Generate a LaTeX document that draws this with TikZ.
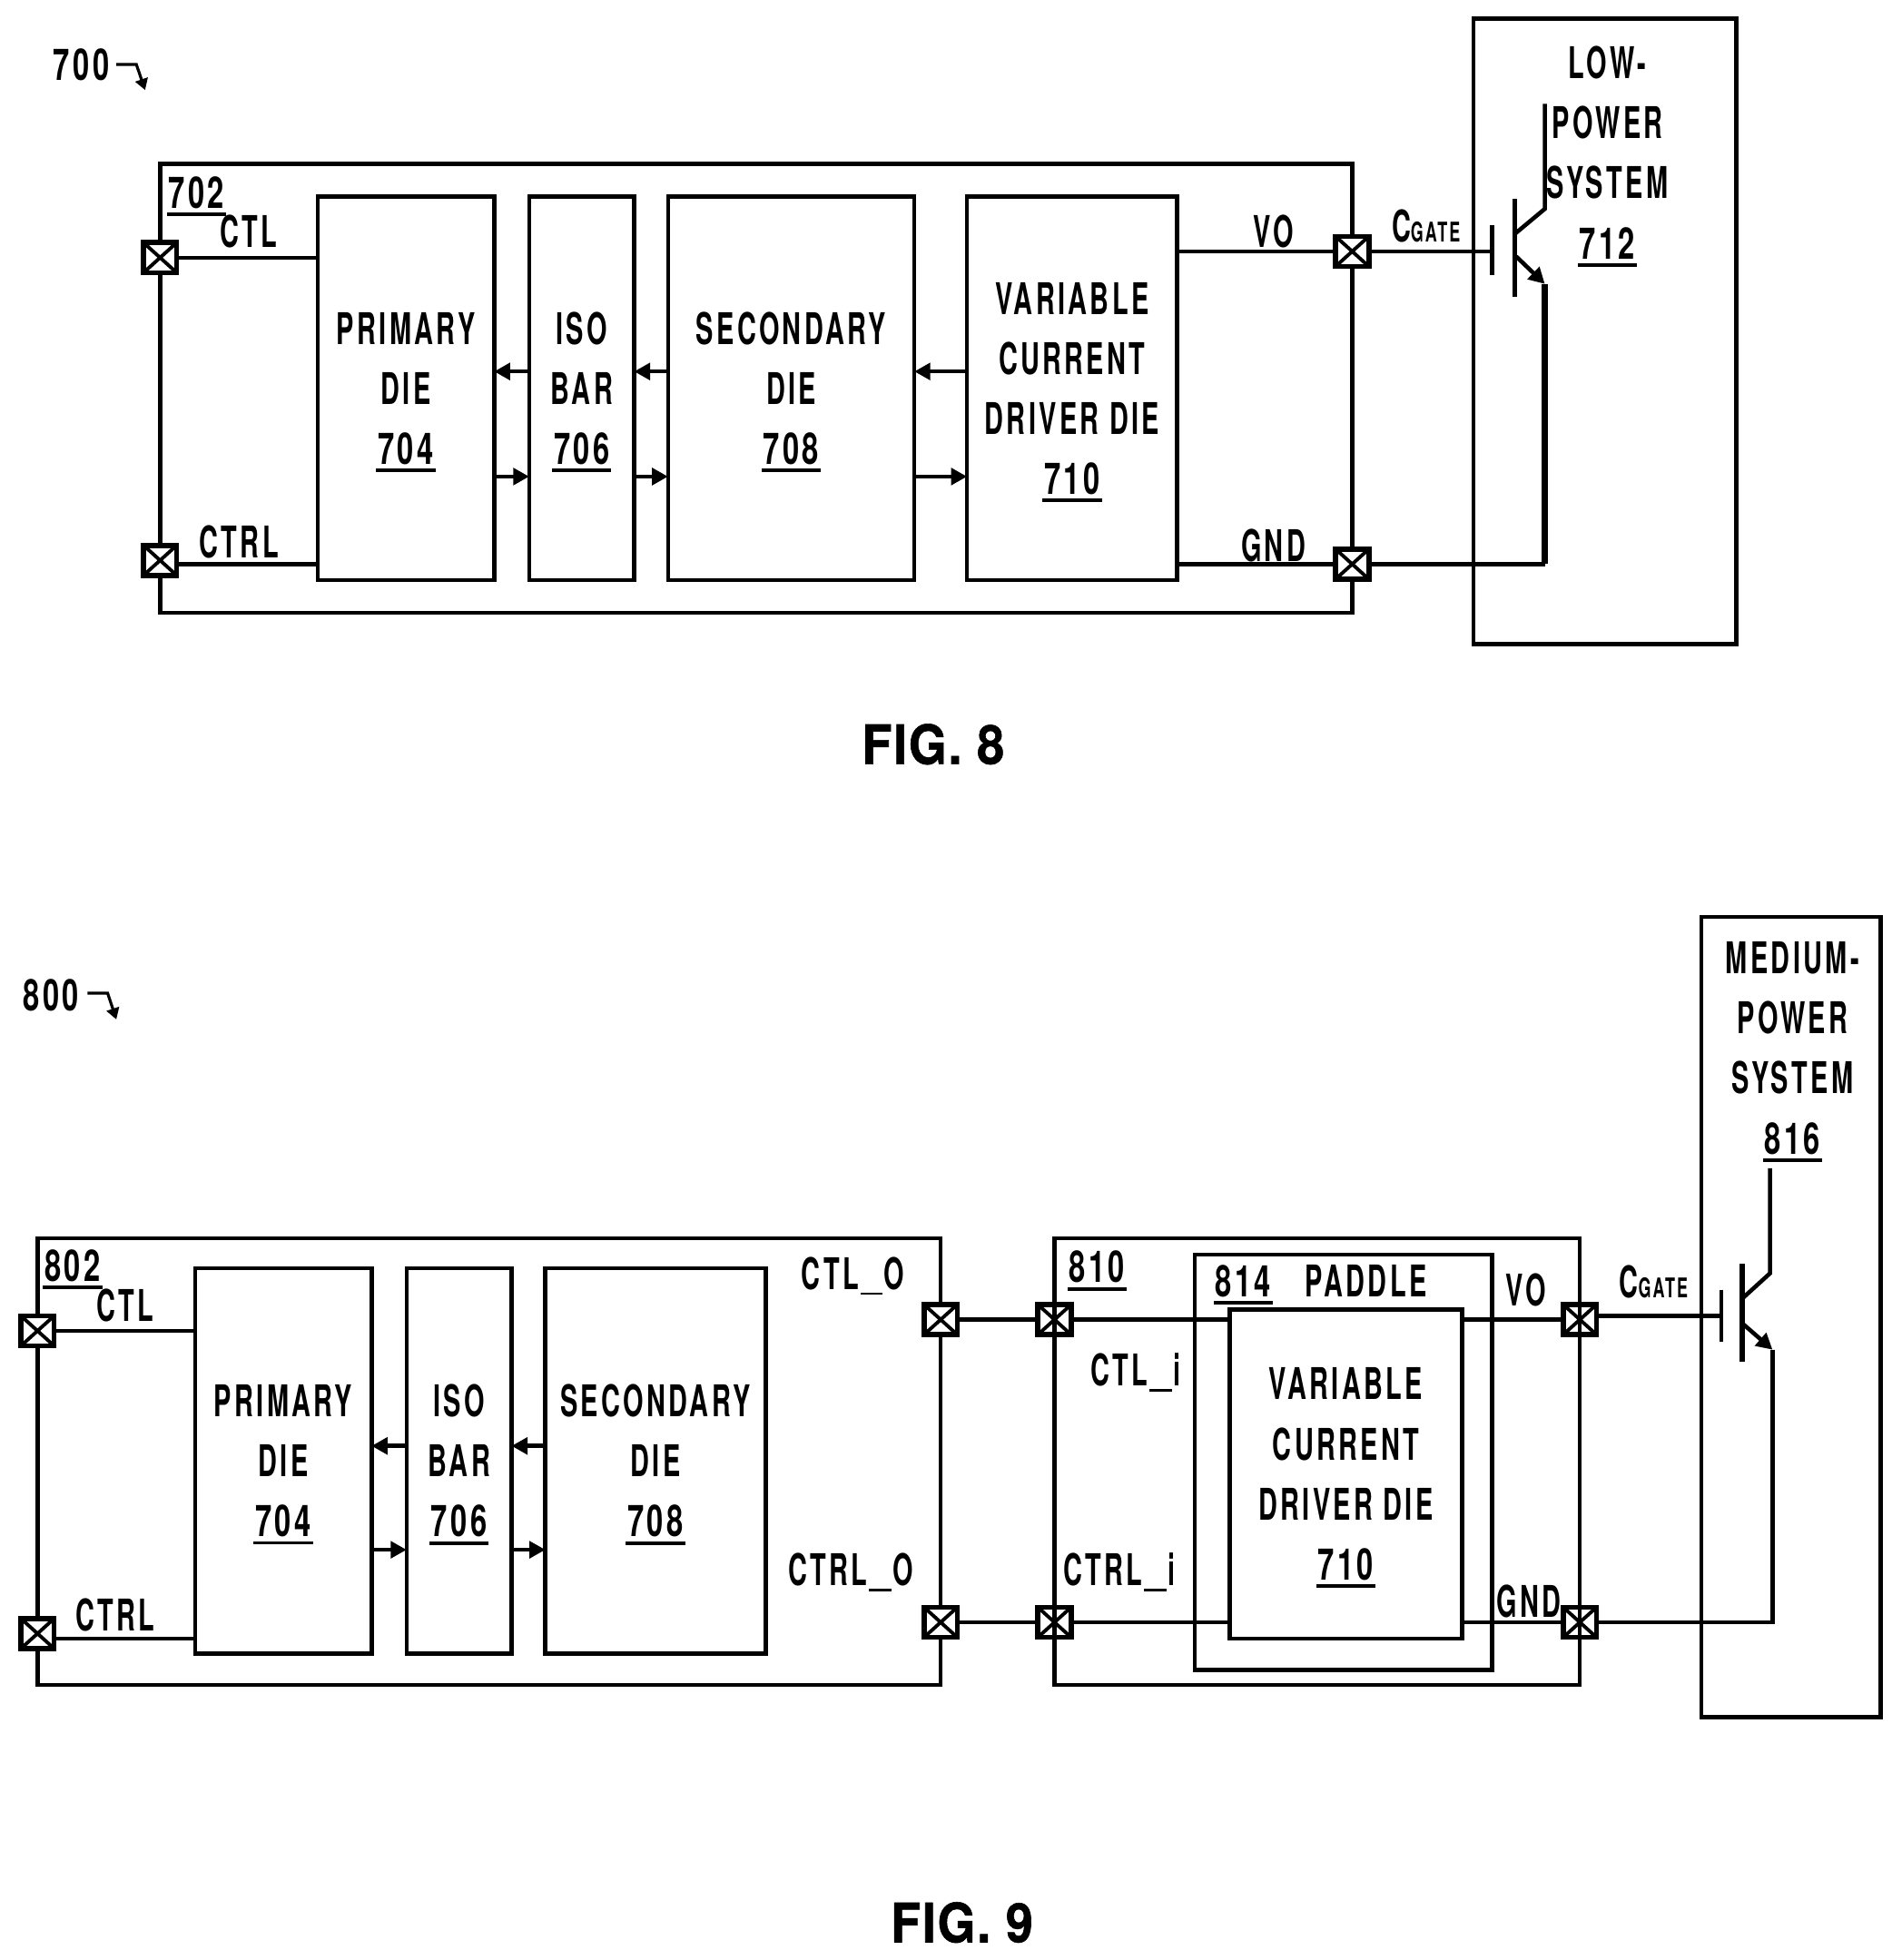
\documentclass[tikz,border=0pt]{standalone}
\usepackage{fontspec}
\setmainfont[FakeStretch=0.6,LetterSpace=7]{TeX Gyre Heros Bold}
\newfontfamily\figfont[FakeStretch=0.9,LetterSpace=3,FakeBold=1]{TeX Gyre Heros Bold}
\newfontfamily\numfont[FakeStretch=0.68,LetterSpace=7]{TeX Gyre Heros Bold}
\usepackage{tikz}
\usetikzlibrary{arrows.meta}
\newsavebox{\refbox}
\newcommand{\subgate}[1]{{\fontsize{8.5}{10}\selectfont #1}}
\newcommand{\refnum}[1]{\sbox{\refbox}{\numfont #1}\leavevmode\smash{\rlap{\kern-.6pt\vrule width\dimexpr\wd\refbox+1.2pt\relax height -1.4pt depth 2.5pt}}\usebox{\refbox}}
\newcommand{\ubar}{\kern.5pt\smash{\rule[-1.8pt]{7pt}{.8pt}}\kern.5pt}
\begin{document}
\begin{tikzpicture}[
        x=0.013776cm, y=-0.013776cm,
        >={Triangle[length=5pt,width=5.2pt]},
        wire/.style={line width=1.3pt},
        thinwire/.style={line width=.9pt},
        tag/.style={inner sep=0pt, outer sep=0pt, align=center,
            font=\fontsize{13.7}{18.8}\selectfont},
        die/.style={draw, line width=1.3pt, inner sep=0pt, outer sep=0pt, align=center,
            font=\fontsize{13.7}{18.8}\selectfont},
        pad/.style={draw, line width=1.6pt, fill=white, minimum width=10.4pt, minimum height=9.4pt, inner sep=0pt,
            path picture={\draw[line width=1.1pt] (path picture bounding box.south west) -- (path picture bounding box.north east)
                (path picture bounding box.north west) -- (path picture bounding box.south east);}}
        ]
        \useasboundingbox (0,0) rectangle (1520,1567);

        % fig 8
        \node[tag] (ref700) at (65,52) {\numfont 700};
        \coordinate (arr700a) at (93,51.5);
        \coordinate (arr700b) at (109,51.5);
        \coordinate (arr700c) at (116,72);
        \draw[thinwire,-{Triangle[length=3.5pt,width=4pt]}] (arr700a) -- (arr700b) -- (arr700c);

        \draw[wire] (128,131) rectangle (1081,490);
        \node[tag] (lab702) at (157,154) {\refnum{702}};
        \node[tag] (ctl8) at (199,185) {CTL};
        \node[tag] (ctrl8) at (191,433) {CTRL};

        \node[die, minimum width=55.3pt, minimum height=120.3pt] (prim8) at (324.5,310.5) {PRIMARY\\DIE\\\refnum{704}};
        \node[die, minimum width=32.9pt, minimum height=120.3pt] (iso8) at (465,310.5) {ISO\\BAR\\\refnum{706}};
        \node[die, minimum width=77.2pt, minimum height=120.3pt] (sec8) at (632.5,310.5) {SECONDARY\\DIE\\\refnum{708}};
        \node[die, minimum width=65.8pt, minimum height=120.3pt] (var8) at (857,310.5) {VARIABLE\\CURRENT\\DRIVER DIE\\\refnum{710}};

        \coordinate (up8) at (0,297);
        \coordinate (dn8) at (0,381);
        \coordinate (low8) at (0,451);
        \node[pad] (p8a) at (128,206) {};
        \node[pad] (p8b) at (128,448) {};
        \node[pad] (p8c) at (1081,201) {};
        \node[pad] (p8d) at (1081,451) {};
        \path[wire,->]
              (iso8.west |- up8) edge (prim8.east |- up8)
              (sec8.west |- up8) edge (iso8.east |- up8)
              (var8.west |- up8) edge (sec8.east |- up8)
              (prim8.east |- dn8) edge (iso8.west |- dn8)
              (iso8.east |- dn8) edge (sec8.west |- dn8)
              (sec8.east |- dn8) edge (var8.west |- dn8);
        \path[wire]
              (p8a.east) edge (prim8.west |- p8a)
              (p8b.east |- low8) edge (prim8.west |- low8)
              (var8.east |- p8c) edge (p8c.west)
              (var8.east |- p8d) edge (p8d.west);

        \node[tag] (vo8) at (1018,185) {VO};
        \node[tag] (gnd8) at (1018,436) {GND};
        \node[tag] (cg8) at (1140,181) {C\subgate{GATE}};

        \draw[wire] (1178,15) rectangle (1388,515);
        \node[tag] (sys8) at (1285,122) {LOW-\\POWER\\SYSTEM\\\refnum{712}};

        % transistor
        \coordinate (plate8) at (1193,201);
        \coordinate (coll8) at (1235,167);
        \coordinate (emit8) at (1235,227);
        \coordinate (corner8) at (1235,451);
        \draw[wire] (p8c.east) -- (plate8);
        \draw[wire] (1193,180) -- (1193,220);
        \draw[line width=1.6pt] (1211,159) -- (1211,237);
        \draw[wire] (1211,187) -- (coll8) -- (1235,83);
        \draw[wire,->] (1212,205) -- (emit8);
        \draw[line width=1.9pt] (emit8) -- (corner8);
        \draw[wire] (corner8) -- (p8d.east);

        \node[font=\figfont\fontsize{17}{20}\selectfont, inner sep=0pt] (fig8) at (746,595) {FIG. 8};

        % fig 9
        \node[tag] (ref800) at (41,796) {\numfont 800};
        \coordinate (arr800a) at (70,794);
        \coordinate (arr800b) at (86,794);
        \coordinate (arr800c) at (93,815);
        \draw[thinwire,-{Triangle[length=3.5pt,width=4pt]}] (arr800a) -- (arr800b) -- (arr800c);

        \draw[wire] (30,990) rectangle (752,1347);
        \node[tag] (lab802) at (58,1012) {\refnum{802}};
        \node[tag] (ctl9) at (100,1044) {CTL};
        \node[tag] (ctrl9) at (92,1291) {CTRL};

        \node[die, minimum width=55.3pt, minimum height=120.7pt] (prim9) at (226.5,1168) {PRIMARY\\DIE\\\refnum{704}};
        \node[die, minimum width=32.9pt, minimum height=120.7pt] (iso9) at (367,1168) {ISO\\BAR\\\refnum{706}};
        \node[die, minimum width=69pt, minimum height=120.7pt] (sec9) at (524,1168) {SECONDARY\\DIE\\\refnum{708}};

        \node[pad] (p9a) at (30,1064) {};
        \node[pad] (p9b) at (30,1306) {};
        \node[pad] (p9c) at (752,1055) {};
        \node[pad] (p9d) at (752,1297) {};
        \node[pad] (p9e) at (843,1055) {};
        \node[pad] (p9f) at (843,1297) {};
        \node[pad] (p9g) at (1263,1055) {};
        \node[pad] (p9h) at (1263,1297) {};

        \coordinate (up9) at (0,1156);
        \coordinate (dn9) at (0,1239);
        \coordinate (low9) at (0,1310);
        \coordinate (gate9) at (0,1052);
        \path[wire,->]
              (iso9.west |- up9) edge (prim9.east |- up9)
              (sec9.west |- up9) edge (iso9.east |- up9)
              (prim9.east |- dn9) edge (iso9.west |- dn9)
              (iso9.east |- dn9) edge (sec9.west |- dn9);
        \path[wire]
              (p9a.east) edge (prim9.west |- p9a)
              (p9b.east |- low9) edge (prim9.west |- low9);

        \node[tag] (ctlo) at (682,1018) {CTL\ubar O};
        \node[tag] (ctrlo) at (680,1255) {CTRL\ubar O};

        \draw[wire] (843,990) rectangle (1263,1347);
        \node[tag] (lab810) at (877,1013) {\refnum{810}};
        \draw[wire] (955,1003) rectangle (1193,1335);
        \node[tag] (lab814) at (994,1024) {\refnum{814}};
        \node[tag] (paddle) at (1092,1024) {PADDLE};
        \node[die, minimum width=72.9pt, minimum height=103.1pt] (var9) at (1076,1178.5) {VARIABLE\\CURRENT\\DRIVER DIE\\\refnum{710}};
        \path[wire]
              (p9c.east) edge (p9e.west)
              (p9d.east) edge (p9f.west)
              (p9e.east) edge (var9.west |- p9e)
              (p9f.east) edge (var9.west |- p9f)
              (var9.east |- p9g) edge (p9g.west)
              (var9.east |- p9h) edge (p9h.west);

        \node[tag] (ctli) at (908,1095) {CTL\ubar i};
        \node[tag] (ctrli) at (895,1255) {CTRL\ubar i};
        \node[tag] (vo9) at (1220,1031) {VO};
        \node[tag] (gnd9) at (1222,1280) {GND};
        \node[tag] (cg9) at (1322,1025) {C\subgate{GATE}};

        \draw[wire] (1360,733) rectangle (1503.5,1373);
        \node[tag] (sys9) at (1433,838) {MEDIUM-\\POWER\\SYSTEM\\\refnum{816}};

        \coordinate (plate9) at (1376,1052);
        \coordinate (coll9) at (1415,1018);
        \coordinate (emit9) at (1417,1079);
        \coordinate (corner9) at (1417,1297);
        \draw[wire] (p9g.east |- gate9) -- (plate9);
        \draw[wire] (1376,1031) -- (1376,1073);
        \draw[line width=1.6pt] (1393,1010) -- (1393,1089);
        \draw[wire] (1393,1038) -- (coll9) -- (1415,934);
        \draw[wire,->] (1394,1059) -- (emit9);
        \draw[wire] (emit9) -- (corner9) -- (p9h.east);

        \node[font=\figfont\fontsize{17}{20}\selectfont, inner sep=0pt] (fig9) at (769,1537) {FIG. 9};
\end{tikzpicture}
\end{document}
